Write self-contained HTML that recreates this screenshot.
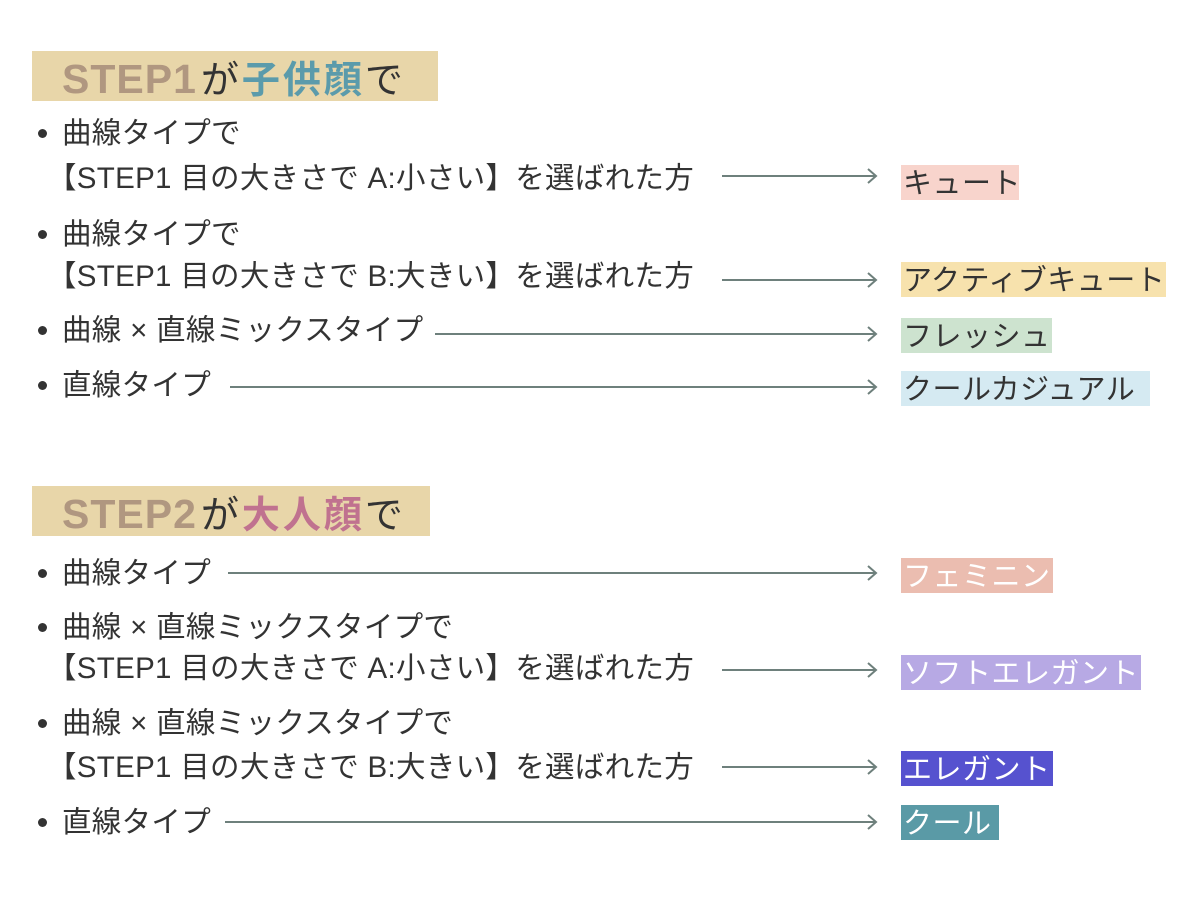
<!DOCTYPE html>
<html><head><meta charset="utf-8"><style>
html,body{margin:0;padding:0;background:#fff;}
body{width:1200px;height:900px;position:relative;overflow:hidden;font-family:"Liberation Sans","Noto Sans CJK JP",sans-serif;color:#333;}
.t{position:absolute;font-size:29.5px;line-height:30px;white-space:nowrap;letter-spacing:0.3px;}
.b{position:absolute;width:9px;height:9px;border-radius:50%;background:#333;}
.h{position:absolute;left:32px;height:50px;background:#e8d6a9;}
.h span.s{position:absolute;top:9px;left:30px;font-size:38px;line-height:38px;white-space:nowrap;letter-spacing:3px;}
.lab{position:absolute;left:901px;height:35px;font-size:29px;line-height:38px;white-space:nowrap;letter-spacing:0.5px;padding-left:2px;box-sizing:border-box;}
svg{position:absolute;left:0;top:0;}
</style></head><body>
<div class="h" style="top:51px;width:406px"><span class="s"><b style="color:#b09780;font-size:41px;letter-spacing:1px">STEP1</b><span style="margin-left:4px">が</span><b style="color:#5b9bab">子供顔</b>で</span></div>
<div class="h" style="top:486px;width:398px"><span class="s"><b style="color:#b09780;font-size:41px;letter-spacing:1px">STEP2</b><span style="margin-left:4px">が</span><b style="color:#c0728f">大人顔</b>で</span></div>

<div class="b" style="left:38px;top:129px"></div><div class="t" style="left:62px;top:119px">曲線タイプで</div>
<div class="t" style="left:47px;top:164px">【STEP1 目の大きさで A:小さい】を選ばれた方</div>
<div class="b" style="left:38px;top:230px"></div><div class="t" style="left:62px;top:220px">曲線タイプで</div>
<div class="t" style="left:47px;top:262px">【STEP1 目の大きさで B:大きい】を選ばれた方</div>
<div class="b" style="left:38px;top:326px"></div><div class="t" style="left:62px;top:316px">曲線 × 直線ミックスタイプ</div>
<div class="b" style="left:38px;top:381px"></div><div class="t" style="left:62px;top:371px">直線タイプ</div>

<div class="b" style="left:38px;top:569px"></div><div class="t" style="left:62px;top:559px">曲線タイプ</div>
<div class="b" style="left:38px;top:623px"></div><div class="t" style="left:62px;top:613px">曲線 × 直線ミックスタイプで</div>
<div class="t" style="left:47px;top:654px">【STEP1 目の大きさで A:小さい】を選ばれた方</div>
<div class="b" style="left:38px;top:719px"></div><div class="t" style="left:62px;top:709px">曲線 × 直線ミックスタイプで</div>
<div class="t" style="left:47px;top:753px">【STEP1 目の大きさで B:大きい】を選ばれた方</div>
<div class="b" style="left:38px;top:818px"></div><div class="t" style="left:62px;top:808px">直線タイプ</div>

<svg width="1200" height="900">
<g stroke="#6e807c" stroke-width="2" fill="none">
<path d="M722 176H876M868 169L876 176L868 183"/>
<path d="M722 280H876M868 273L876 280L868 287"/>
<path d="M435 334H876M868 327L876 334L868 341"/>
<path d="M230 387H876M868 380L876 387L868 394"/>
<path d="M228 573H876M868 566L876 573L868 580"/>
<path d="M722 670H876M868 663L876 670L868 677"/>
<path d="M722 767H876M868 760L876 767L868 774"/>
<path d="M225 822H876M868 815L876 822L868 829"/>
</g></svg>

<div class="lab" style="top:165px;width:118px;background:#f8d4cc">キュート</div>
<div class="lab" style="top:262px;width:265px;background:#f7e2ad">アクティブキュート</div>
<div class="lab" style="top:318px;width:151px;background:#cde3cf">フレッシュ</div>
<div class="lab" style="top:371px;width:249px;background:#d5eaf2">クールカジュアル</div>
<div class="lab" style="top:558px;width:152px;background:#ebbdb0;color:#fff">フェミニン</div>
<div class="lab" style="top:655px;width:240px;background:#b7a9e4;color:#fff">ソフトエレガント</div>
<div class="lab" style="top:751px;width:152px;background:#5652cf;color:#fff">エレガント</div>
<div class="lab" style="top:805px;width:98px;background:#5a9aa6;color:#fff">クール</div>
</body></html>
